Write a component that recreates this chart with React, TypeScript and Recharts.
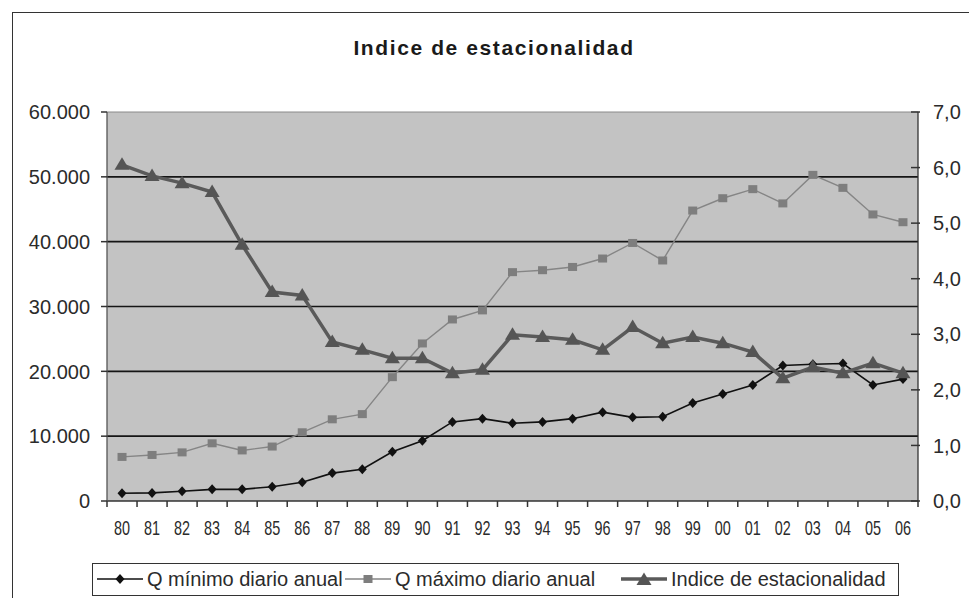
import React from "react"
import {
  ComposedChart, Line, XAxis, YAxis, CartesianGrid, ReferenceLine,
} from "recharts"

const YEARS = [
  "80", "81", "82", "83", "84", "85", "86", "87", "88", "89", "90", "91", "92", "93",
  "94", "95", "96", "97", "98", "99", "00", "01", "02", "03", "04", "05", "06",
]

const Q_MIN = [
  1200, 1250, 1500, 1800, 1800, 2200, 2900, 4300, 4900, 7600, 9300, 12200, 12700, 12000,
  12200, 12700, 13700, 12900, 13000, 15100, 16500, 17900, 20900, 21100, 21200, 17900, 18800,
]

const Q_MAX = [
  6800, 7100, 7500, 8900, 7800, 8400, 10600, 12600, 13400, 19100, 24300, 28000, 29400, 35300,
  35600, 36100, 37400, 39800, 37100, 44800, 46700, 48100, 45900, 50300, 48300, 44200, 43000,
]

const INDICE = [
  6.05, 5.85, 5.72, 5.56, 4.61, 3.76, 3.7, 2.86, 2.72, 2.57, 2.57, 2.3, 2.36, 2.99,
  2.95, 2.9, 2.72, 3.13, 2.84, 2.95, 2.84, 2.68, 2.21, 2.41, 2.3, 2.48, 2.3,
]

const LEFT_TICKS = [0, 10000, 20000, 30000, 40000, 50000, 60000]
const RIGHT_TICKS = [0, 1, 2, 3, 4, 5, 6, 7]
const GRID_LINES = [10000, 20000, 30000, 40000, 50000]

const W = 969
const H = 598
const FONT = "'Liberation Sans', Arial, sans-serif"
const TXT = "#2b2b2b"

const data = YEARS.map((year, i) => ({
  year,
  qmin: Q_MIN[i],
  qmax: Q_MAX[i],
  indice: INDICE[i],
}))

const fmtMiles = (v: number) => (v === 0 ? "0" : v.toLocaleString("de-DE"))
const fmtComa = (v: number) => v.toFixed(1).replace(".", ",")

function Diamond({ cx, cy }: any) {
  return <path d={`M${cx},${cy - 5}L${cx + 4.5},${cy}L${cx},${cy + 5}L${cx - 4.5},${cy}Z`} fill="#111" />
}
function Square({ cx, cy }: any) {
  return <rect x={cx - 4.5} y={cy - 4} width={9} height={8} fill="#7e7e7e" />
}
function Triangle({ cx, cy }: any) {
  return <path d={`M${cx},${cy - 7.5}L${cx + 7.5},${cy + 5}L${cx - 7.5},${cy + 5}Z`} fill="#555" />
}

// half of the category band, from the tick payload when recharts gives it
const halfBand = (props: any) =>
  props.payload?.offset ? props.payload.offset : (props.width ?? 811) / YEARS.length / 2

function XTick(props: any) {
  const { x, y, payload, index } = props
  const h = halfBand(props)
  return (
    <g>
      <line x1={x - h} x2={x - h} y1={y} y2={y + 6} stroke="#333" strokeWidth={1.5} />
      {index === YEARS.length - 1 && (
        <line x1={x + h} x2={x + h} y1={y} y2={y + 6} stroke="#333" strokeWidth={1.5} />
      )}
      <text
        transform={`translate(${x},${y + 34}) scale(0.72,1)`}
        textAnchor="middle"
        fontSize={20}
        fontFamily={FONT}
        fill={TXT}
      >
        {payload.value}
      </text>
    </g>
  )
}

function LeftTick(props: any) {
  const { x, y, payload } = props
  return (
    <g>
      <line x1={x - 6} x2={x} y1={y} y2={y} stroke="#333" strokeWidth={1.5} />
      <text x={x - 17} y={y} dy="0.36em" textAnchor="end" fontSize={20} fontFamily={FONT} fill={TXT}>
        {fmtMiles(payload.value)}
      </text>
    </g>
  )
}

function RightTick(props: any) {
  const { x, y, payload } = props
  return (
    <g>
      <line x1={x - 7} x2={x + 2} y1={y} y2={y} stroke="#333" strokeWidth={1.5} />
      <text x={x + 15} y={y} dy="0.36em" textAnchor="start" fontSize={20} fontFamily={FONT} fill={TXT}>
        {fmtComa(payload.value)}
      </text>
    </g>
  )
}

function LegendItem({ left, label, marker, stroke, sw }: any) {
  return (
    <div style={{ position: "absolute", left, top: 0, height: 30, display: "flex", alignItems: "center" }}>
      <svg width={46} height={20} style={{ marginRight: 4 }}>
        <line x1={0} x2={46} y1={10} y2={10} stroke={stroke} strokeWidth={sw} />
        {marker}
      </svg>
      <span style={{ fontSize: 20, fontFamily: FONT, color: TXT, whiteSpace: "nowrap" }}>{label}</span>
    </div>
  )
}

export default function App() {
  return (
    <div style={{ position: "absolute", left: 0, top: 0, width: W, height: H, background: "#fff", overflow: "hidden" }}>
      <div
        style={{
          position: "absolute", left: 12, top: 12, width: W, height: H,
          borderLeft: "1.5px solid #333", borderTop: "1.5px solid #333",
        }}
      />
      <div
        style={{
          position: "absolute", left: 0, width: 988, top: 36, textAlign: "center",
          fontFamily: FONT, fontWeight: "bold", fontSize: 21, letterSpacing: 1.6, color: "#1a1a1a",
        }}
      >
        Indice de estacionalidad
      </div>

      <div style={{ position: "absolute", left: 0, top: 0 }}>
        <ComposedChart width={W} height={H} data={data} margin={{ top: 112, right: 0, left: 0, bottom: 37 }}>
          <CartesianGrid yAxisId="left" fill="#c3c3c3" horizontal={false} vertical={false} />
          <XAxis
            dataKey="year"
            scale="band"
            height={60}
            interval={0}
            tickSize={0}
            tickMargin={0}
            tickLine={false}
            axisLine={{ stroke: "#333", strokeWidth: 1.3 }}
            tick={XTick}
          />
          <YAxis
            yAxisId="left"
            width={107}
            domain={[0, 60000]}
            ticks={LEFT_TICKS}
            interval={0}
            tickSize={0}
            tickMargin={0}
            tickLine={false}
            axisLine={{ stroke: "#555", strokeWidth: 1.3 }}
            tick={LeftTick}
          />
          <YAxis
            yAxisId="right"
            orientation="right"
            width={51}
            domain={[0, 7]}
            ticks={RIGHT_TICKS}
            interval={0}
            tickSize={0}
            tickMargin={0}
            tickLine={false}
            axisLine={{ stroke: "#333", strokeWidth: 1.3 }}
            tick={RightTick}
          />
          <ReferenceLine yAxisId="left" y={60000} stroke="#8a8a8a" strokeWidth={1} />
          {GRID_LINES.map((v) => (
            <ReferenceLine key={v} yAxisId="left" y={v} stroke="#151515" strokeWidth={1.6} />
          ))}
          <Line
            yAxisId="left"
            dataKey="qmin"
            stroke="#111"
            strokeWidth={1.6}
            dot={(p: any) => <Diamond key={p.index} {...p} />}
            activeDot={false}
            isAnimationActive={false}
          />
          <Line
            yAxisId="left"
            dataKey="qmax"
            stroke="#858585"
            strokeWidth={1.4}
            dot={(p: any) => <Square key={p.index} {...p} />}
            activeDot={false}
            isAnimationActive={false}
          />
          <Line
            yAxisId="right"
            dataKey="indice"
            stroke="#5a5a5a"
            strokeWidth={3.5}
            dot={(p: any) => <Triangle key={p.index} {...p} />}
            activeDot={false}
            isAnimationActive={false}
          />
        </ComposedChart>
      </div>

      <div style={{ position: "absolute", left: 92, top: 563, width: 807, height: 33, border: "1.5px solid #333", boxSizing: "border-box" }}>
        <LegendItem
          left={4}
          label="Q mínimo diario anual"
          stroke="#111"
          sw={1.6}
          marker={<Diamond cx={23} cy={10} />}
        />
        <LegendItem
          left={252}
          label="Q máximo diario anual"
          stroke="#858585"
          sw={1.4}
          marker={<Square cx={23} cy={10} />}
        />
        <LegendItem
          left={528}
          label="Indice de estacionalidad"
          stroke="#5a5a5a"
          sw={3.5}
          marker={<Triangle cx={23} cy={11} />}
        />
      </div>
    </div>
  )
}
